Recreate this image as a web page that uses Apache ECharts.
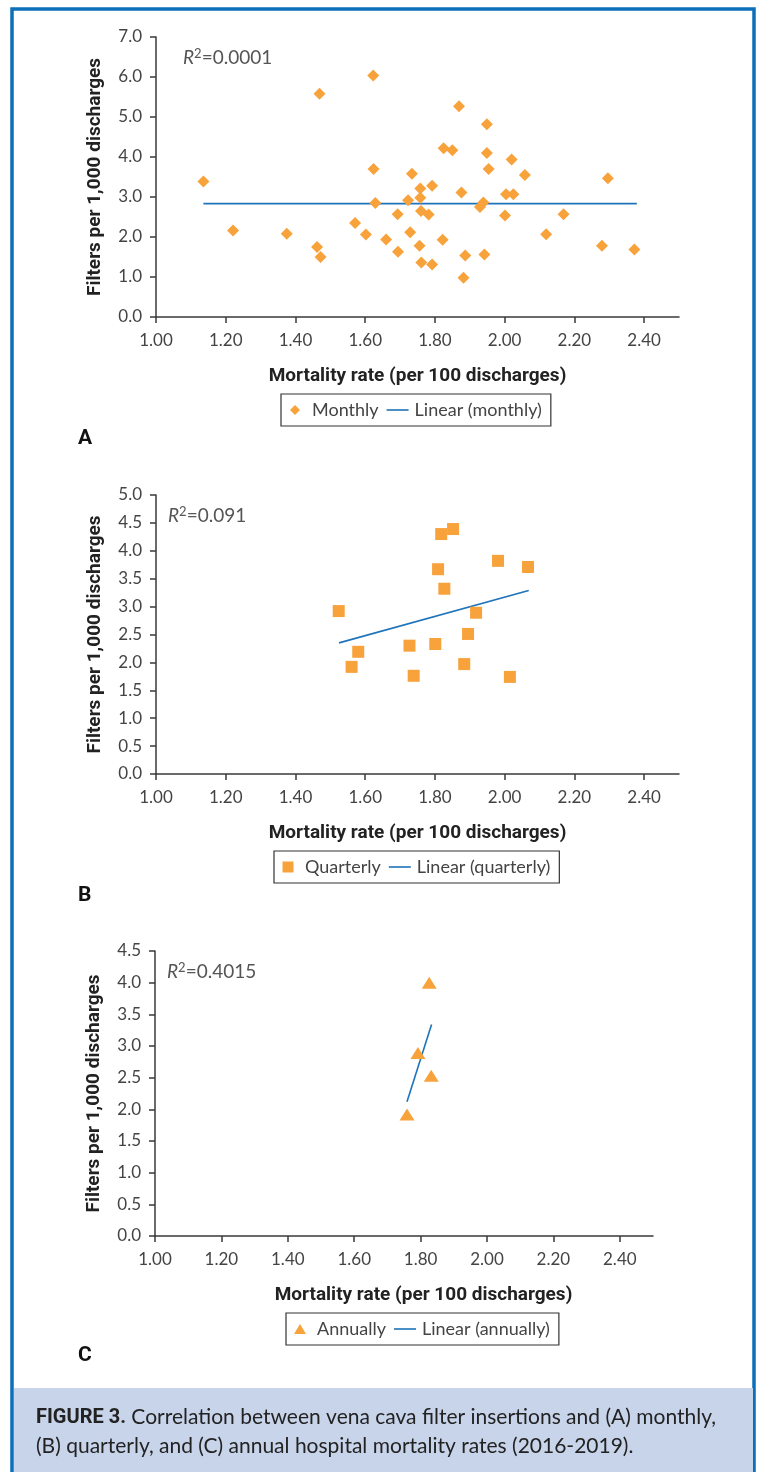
<!DOCTYPE html>
<html>
<head>
<meta charset="utf-8">
<script src="https://cdn.jsdelivr.net/npm/echarts@6/dist/echarts.min.js"></script>
<style>
html,body{margin:0;padding:0;background:#fff;}
#fig{width:761px;height:1472px;}
</style>
</head>
<body>
<div id="fig"></div>
<script>
// monthly points (A)
var monthlyX = [1.136,1.221,1.375,1.469,1.462,1.472,1.623,1.624,1.629,1.571,1.602,1.660,1.693,1.694,1.734,1.723,1.729,
    1.758,1.758,1.760,1.782,1.756,1.761,1.792,1.792,1.822,1.825,1.850,1.869,1.876,1.887,1.882,1.929,1.939,1.942,
    1.949,1.949,1.954,2.001,2.004,2.025,2.020,2.058,2.119,2.169,2.279,2.296,2.372];
var monthlyY = [3.39,2.16,2.08,5.58,1.75,1.50,6.04,3.70,2.85,2.35,2.06,1.94,2.57,1.63,3.58,2.92,2.12,
    3.21,2.98,2.65,2.56,1.78,1.36,3.28,1.31,1.93,4.22,4.17,5.27,3.11,1.54,0.98,2.75,2.86,1.56,
    4.82,4.10,3.70,2.54,3.07,3.07,3.94,3.55,2.07,2.57,1.78,3.47,1.69];
var monthlyTrendX = [1.136,2.379];
var monthlyTrendY = [2.835,2.835];

// quarterly points (B)
var quarterlyX = [1.524,1.580,1.561,1.727,1.739,1.818,1.852,1.809,1.827,1.801,1.918,1.895,1.884,1.981,2.067,2.015];
var quarterlyY = [2.92,2.19,1.92,2.30,1.76,4.30,4.39,3.67,3.32,2.33,2.89,2.51,1.97,3.82,3.71,1.74];
var quarterlyTrendX = [1.525,2.069];
var quarterlyTrendY = [2.35,3.29];

// annual points (C)
var annualX = [1.826,1.792,1.832,1.759];
var annualY = [4.00,2.89,2.53,1.92];
var annualTrendX = [1.759,1.833];
var annualTrendY = [2.12,3.34];

var xTicks = [1.0,1.2,1.4,1.6,1.8,2.0,2.2,2.4];
var r2Labels = ['0.0001','0.091','0.4015'];
var panelNames = ['A','B','C'];
var legendNames = [['Monthly','Linear (monthly)'],['Quarterly','Linear (quarterly)'],['Annually','Linear (annually)']];

function zip(xs, ys) {
    return xs.map(function(x, i){ return [x, ys[i]]; });
}

var orange = '#f8a23c';
var blue = '#1f73b9';
var axisColor = '#3a3a3a';
var textFont = 'Lato';
var boldFont = 'Roboto';

// grid boxes for A, B, C
var grids = [
    {left:156, top:37, width:523, height:280},
    {left:156, top:495, width:523, height:279},
    {left:155, top:951, width:498, height:285}
];
var yMax = [7, 5, 4.5];
var yStep = [1, 0.5, 0.5];
var symbols = ['diamond','rect','triangle'];
var symSizes = [12, 12, [15,12]];
var scatterData = [zip(monthlyX, monthlyY), zip(quarterlyX, quarterlyY), zip(annualX, annualY)];
var trendData = [zip(monthlyTrendX, monthlyTrendY), zip(quarterlyTrendX, quarterlyTrendY), zip(annualTrendX, annualTrendY)];
var legendTops = [394, 851, 1313];
var legendCenters = [417, 417, 423];
var labelTops = [438, 895, 1355];
var titleShift = [0, 0, 39];   // x-title of C sits right of grid centre
// legend icons drawn in a 22x11 box so marker keeps its shape
var legendIcons = [
    'path://M0,0 M22,11 M11,0.5 L16,5.5 L11,10.5 L6,5.5 Z',
    'path://M0,0 M22,11 M5.5,0 L16.5,0 L16.5,11 L5.5,11 Z',
    'path://M0,0 M22,11 M11,0.5 L17,10.5 L5,10.5 Z'
];
var lineIcon = 'path://M0,0 H22 V1.6 H0 Z';

var xAxes = [], yAxes = [], series = [], legends = [], graphics = [];

// frame + caption band
graphics.push({
    type:'rect', shape:{x:12, y:9, width:742, height:1480},
    style:{fill:'#fff', stroke:'#0b6fba', lineWidth:3.5}, z:-10
});
graphics.push({
    type:'rect', shape:{x:14, y:1388, width:739, height:90},
    style:{fill:'#c8d4ea'}, z:-9
});
graphics.push({
    type:'text', left:36, top:1403,
    style:{
        text:'{b|FIGURE 3.} Correlation between vena cava filter insertions and (A) monthly,\n(B) quarterly, and (C) annual hospital mortality rates (2016-2019).',
        font:'21px ' + textFont, fill:'#222', lineHeight:29,
        rich:{ b:{fontFamily:boldFont, fontWeight:'bold', fontSize:20, fill:'#222'} }
    }
});

for (var i = 0; i < 3; i++) {
    var g = grids[i];
    xAxes.push({
        gridIndex:i, type:'value', min:1, max:2.5, interval:0.2,
        name:'Mortality rate (per 100 discharges)', nameLocation:'middle', nameGap:50,
        nameTextStyle:{fontFamily:boldFont, fontWeight:'bold', fontSize:19, color:'#222',
            padding:[0,0,0,titleShift[i]]},
        axisLine:{lineStyle:{color:axisColor, width:1.5}},
        axisTick:{show:true, length:6, customValues:xTicks, lineStyle:{color:axisColor, width:1.5}},
        axisLabel:{customValues:xTicks, margin:15, fontFamily:textFont, fontSize:17, color:'#444',
            formatter:function(v){ return v.toFixed(2); }},
        splitLine:{show:false}
    });
    yAxes.push({
        gridIndex:i, type:'value', min:0, max:yMax[i], interval:yStep[i],
        name:'Filters per 1,000 discharges', nameLocation:'middle', nameGap:51, nameRotate:90,
        nameTextStyle:{fontFamily:boldFont, fontWeight:'bold', fontSize:19, color:'#222'},
        axisLine:{show:true, lineStyle:{color:axisColor, width:1.5}},
        axisTick:{show:true, length:6, lineStyle:{color:axisColor, width:1.5}},
        axisLabel:{margin:14, fontFamily:textFont, fontSize:17, color:'#444',
            formatter:function(v){ return v.toFixed(1); }},
        splitLine:{show:false}
    });
    series.push({
        name:legendNames[i][0], type:'scatter', xAxisIndex:i, yAxisIndex:i,
        symbol:symbols[i], symbolSize:symSizes[i],
        itemStyle:{color:orange, opacity:1},
        data:scatterData[i], z:3
    });
    series.push({
        name:legendNames[i][1], type:'line', xAxisIndex:i, yAxisIndex:i,
        symbol:'none', lineStyle:{color:blue, width:1.6}, itemStyle:{color:blue},
        data:trendData[i], z:2
    });
    legends.push({
        data:[{name:legendNames[i][0], icon:legendIcons[i]}, {name:legendNames[i][1], icon:lineIcon}],
        top:legendTops[i], left:legendCenters[i],
        itemWidth:22, itemHeight:11, itemGap:8,
        padding:[7,9,7,3], borderColor:'#333', borderWidth:1.2,
        textStyle:{fontFamily:textFont, fontSize:18, color:'#444', padding:[0,0,0,1]},
        selectedMode:false
    });
    graphics.push({
        type:'text', left:g.left + (i === 0 ? 27 : 12), top:g.top + 10,
        style:{
            text:'{i|R}{s|2}=' + r2Labels[i],
            font:'19px ' + textFont, fill:'#555',
            rich:{ i:{fontStyle:'italic', fontFamily:textFont, fontSize:19, fill:'#555'},
                   s:{fontFamily:textFont, fontSize:13, fill:'#555', verticalAlign:'top', padding:[0,0,8,0]} }
        }
    });
    graphics.push({
        type:'text', left:78, top:labelTops[i] - 10,
        style:{text:panelNames[i], font:'bold 21px ' + boldFont, fill:'#111'}
    });
}

var chart = echarts.init(document.getElementById('fig'), null, {renderer:'canvas'});
chart.setOption({
    backgroundColor:'#fff',
    animation:false,
    grid:grids,
    xAxis:xAxes,
    yAxis:yAxes,
    legend:legends,
    series:series,
    graphic:graphics
});

// center legends on their stated x
var model = chart.getModel();
var newLegends = legends.map(function(lg, i){
    var comp = model.getComponent('legend', i);
    var view = chart.getViewOfComponentModel(comp);
    var w = view.group.getBoundingRect().width;
    return {left: Math.round(legendCenters[i] - w / 2)};
});
chart.setOption({legend:newLegends});
</script>
</body>
</html>
